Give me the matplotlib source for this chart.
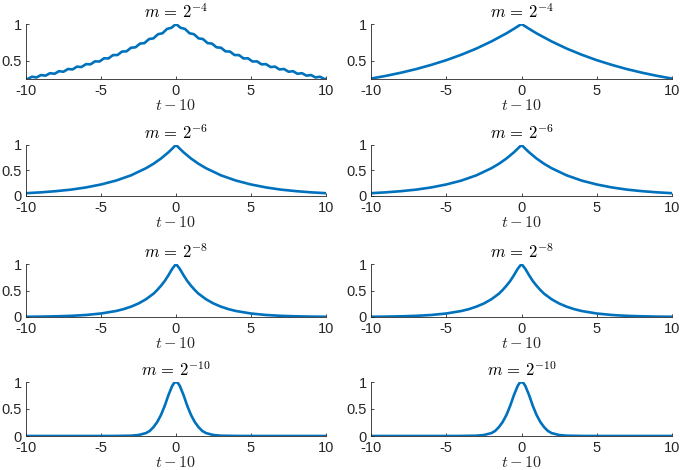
import numpy as np
import matplotlib
matplotlib.use("Agg")
import matplotlib.pyplot as plt

plt.rcParams['font.family'] = ['Liberation Sans', 'DejaVu Sans']
plt.rcParams['mathtext.fontset'] = 'cm'
plt.rcParams['axes.unicode_minus'] = False

# ---------------- data ----------------
titles = [r'$m\,=\,2^{-4}$', r'$m\,=\,2^{-6}$', r'$m\,=\,2^{-8}$', r'$m\,=\,2^{-10}$']
xlabel_text = r'$t - 10$'
xticks = [-10, -5, 0, 5, 10]
xticklabels = ['-10', '-5', '0', '5', '10']

# Row 1, left (wiggly curve): peaks / troughs
x_r1_left = [-10.0, -9.9, -9.6, -9.3, -9.0, -8.7, -8.4, -8.1, -7.8, -7.5, -7.2, -6.9, -6.6, -6.3,
             -6.0, -5.7, -5.4, -5.1, -4.8, -4.5, -4.2, -3.9, -3.6, -3.3, -3.0, -2.7, -2.4, -2.1,
             -1.8, -1.5, -1.2, -0.9, -0.6, -0.3, 0.0,
             0.3, 0.6, 0.9, 1.2, 1.5, 1.8, 2.1, 2.4, 2.7, 3.0, 3.3, 3.6, 3.9, 4.2, 4.5, 4.8,
             5.1, 5.4, 5.7, 6.0, 6.3, 6.6, 6.9, 7.2, 7.5, 7.8, 8.1, 8.4, 8.7, 9.0, 9.3, 9.6,
             9.9, 10.0]
y_r1_left = [0.253, 0.251, 0.283, 0.273, 0.306, 0.297, 0.331, 0.323, 0.358, 0.351, 0.388, 0.382,
             0.420, 0.415, 0.454, 0.451, 0.492, 0.490, 0.533, 0.532, 0.577, 0.578, 0.625, 0.628,
             0.677, 0.683, 0.733, 0.741, 0.795, 0.805, 0.861, 0.874, 0.933, 0.949, 1.000,
             0.949, 0.933, 0.874, 0.861, 0.805, 0.795, 0.741, 0.733, 0.683, 0.677, 0.628, 0.625,
             0.578, 0.577, 0.532, 0.533, 0.490, 0.492, 0.451, 0.454, 0.415, 0.420, 0.382, 0.388,
             0.351, 0.358, 0.323, 0.331, 0.297, 0.306, 0.273, 0.283, 0.251, 0.253]

# Row 1, right (smooth)
x_r1_right = [-10, -9, -8, -7, -6, -5, -4, -3, -2, -1, -0.5, 0, 0.5, 1, 2, 3, 4, 5, 6, 7, 8, 9, 10]
y_r1_right = [0.258, 0.295, 0.338, 0.387, 0.444, 0.508, 0.582, 0.666, 0.763, 0.873, 0.935, 1.0,
              0.935, 0.873, 0.763, 0.666, 0.582, 0.508, 0.444, 0.387, 0.338, 0.295, 0.258]

# Row 2
x_r2 = [-10, -9, -8, -7, -6, -5, -4, -3, -2, -1.5, -1, -0.5, 0, 0.5, 1, 1.5, 2, 3, 4, 5, 6, 7, 8, 9, 10]
y_r2_left = [0.055, 0.072, 0.095, 0.125, 0.168, 0.226, 0.302, 0.405, 0.545, 0.632, 0.735, 0.858, 1.0,
             0.858, 0.735, 0.632, 0.545, 0.405, 0.302, 0.226, 0.168, 0.125, 0.095, 0.072, 0.055]
y_r2_right = [0.055, 0.072, 0.095, 0.125, 0.168, 0.226, 0.302, 0.405, 0.545, 0.632, 0.735, 0.858, 1.0,
              0.858, 0.735, 0.632, 0.545, 0.405, 0.302, 0.226, 0.168, 0.125, 0.095, 0.072, 0.055]

# Row 3
x_r3 = [-10, -9, -8, -7, -6, -5, -4, -3.5, -3, -2.5, -2, -1.5, -1.25, -1, -0.75, -0.5, -0.25, 0,
        0.25, 0.5, 0.75, 1, 1.25, 1.5, 2, 2.5, 3, 3.5, 4, 5, 6, 7, 8, 9, 10]
y_r3_left = [0.0045, 0.0075, 0.013, 0.022, 0.038, 0.066, 0.113, 0.148, 0.195, 0.255, 0.335, 0.440,
             0.510, 0.590, 0.680, 0.790, 0.910, 1.0,
             0.910, 0.790, 0.680, 0.590, 0.510, 0.440, 0.335, 0.255, 0.195, 0.148, 0.113, 0.066,
             0.038, 0.022, 0.013, 0.0075, 0.0045]
y_r3_right = [0.0045, 0.0075, 0.013, 0.022, 0.038, 0.066, 0.113, 0.148, 0.195, 0.255, 0.335, 0.440,
              0.510, 0.590, 0.680, 0.790, 0.910, 1.0,
              0.910, 0.790, 0.680, 0.590, 0.510, 0.440, 0.335, 0.255, 0.195, 0.148, 0.113, 0.066,
              0.038, 0.022, 0.013, 0.0075, 0.0045]

# Row 4
x_r4 = [-10, -8, -6, -5, -4, -3, -2.5, -2, -1.75, -1.5, -1.25, -1, -0.75, -0.5, -0.25, -0.125, 0,
        0.125, 0.25, 0.5, 0.75, 1, 1.25, 1.5, 1.75, 2, 2.5, 3, 4, 5, 6, 8, 10]
y_r4_left = [0.0, 0.0, 0.0, 0.0, 0.001, 0.006, 0.018, 0.054, 0.094, 0.165, 0.260, 0.390, 0.560, 0.760,
             0.930, 0.982, 1.0, 0.982, 0.930, 0.760, 0.560, 0.390, 0.260, 0.165, 0.094, 0.054, 0.018,
             0.006, 0.001, 0.0, 0.0, 0.0, 0.0]
y_r4_right = [0.0, 0.0, 0.0, 0.0, 0.001, 0.006, 0.018, 0.054, 0.094, 0.165, 0.260, 0.390, 0.560, 0.760,
              0.930, 0.982, 1.0, 0.982, 0.930, 0.760, 0.560, 0.390, 0.260, 0.165, 0.094, 0.054, 0.018,
              0.006, 0.001, 0.0, 0.0, 0.0, 0.0]

panels = [
    [(x_r1_left, y_r1_left), (x_r1_right, y_r1_right)],
    [(x_r2, y_r2_left), (x_r2, y_r2_right)],
    [(x_r3, y_r3_left), (x_r3, y_r3_right)],
    [(x_r4, y_r4_left), (x_r4, y_r4_right)],
]
row_ylims = [(0.252, 1.0), (0.0, 1.0), (0.0, 1.0), (0.0, 1.0)]
row_yticks = [[0.5, 1], [0, 0.5, 1], [0, 0.5, 1], [0, 0.5, 1]]
row_yticklabels = [['0.5', '1'], ['0', '0.5', '1'], ['0', '0.5', '1'], ['0', '0.5', '1']]

# ---------------- layout ----------------
W, H = 681, 470
fig = plt.figure(figsize=(W / 100, H / 100), dpi=100)
line_color = '#0072BD'
ax_color = '#262626'

row_px = [(24, 79), (145, 196), (264, 317), (382, 436)]
col_px = [(26, 326), (371, 672)]

for r in range(4):
    for c in range(2):
        top, bot = row_px[r]
        left, right = col_px[c]
        ax = fig.add_axes([left / W, 1 - bot / H, (right - left) / W, (bot - top) / H])
        xs, ys = panels[r][c]
        ax.plot(xs, ys, color=line_color, lw=1.9, solid_joinstyle='round')
        ax.set_xlim(-10, 10)
        ax.set_ylim(*row_ylims[r])
        ax.set_xticks(xticks)
        ax.set_xticklabels(xticklabels)
        ax.set_yticks(row_yticks[r])
        ax.set_yticklabels(row_yticklabels[r])
        for s in ['top', 'right']:
            ax.spines[s].set_visible(False)
        for s in ['left', 'bottom']:
            ax.spines[s].set_color(ax_color)
            ax.spines[s].set_linewidth(0.6)
        ax.tick_params(direction='in', length=2.5, width=0.6, color=ax_color,
                       labelcolor=ax_color, labelsize=10.5)
        ax.tick_params(axis='x', pad=3.5)
        ax.tick_params(axis='y', pad=3)
        ax.set_title(titles[r], fontsize=12, pad=4, color='black')
        ax.set_xlabel(xlabel_text, fontsize=11.5, labelpad=0, color=ax_color)
        ax.patch.set_alpha(0)

fig.savefig('out.png', dpi=100)
